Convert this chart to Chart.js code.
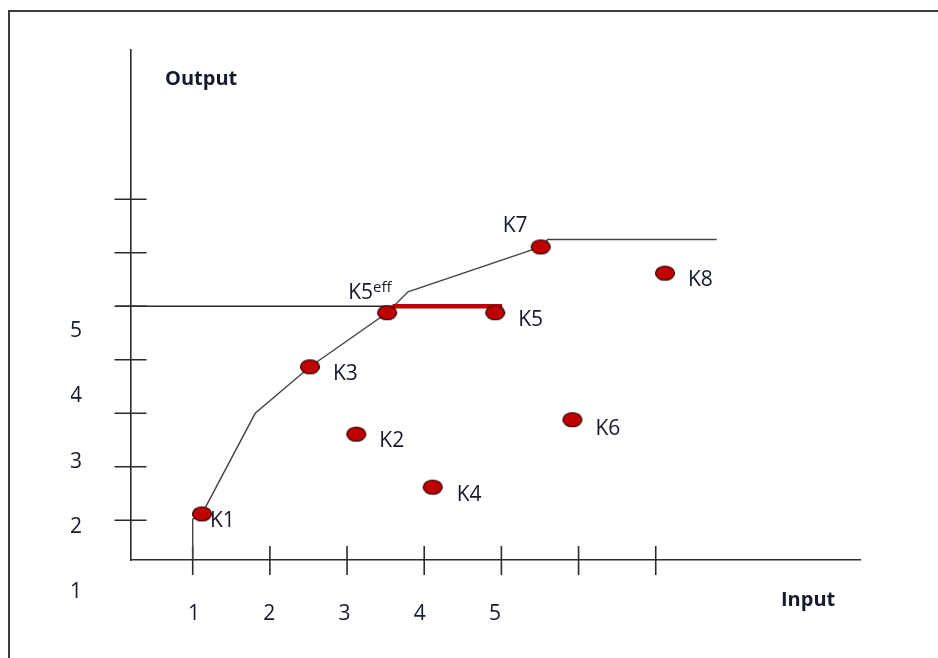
<!DOCTYPE html>
<html>
<head>
<meta charset="utf-8">
<script src="https://cdn.jsdelivr.net/npm/chart.js@4.4.1/dist/chart.umd.min.js"></script>
<style>
  html, body { margin: 0; padding: 0; background: #fff; }
  #wrap { position: relative; width: 938px; height: 658px; overflow: hidden; }
  #frame { position: absolute; left: 8px; top: 10px; right: -10px; bottom: -10px;
           border-left: 2px solid #3c3c3c; border-top: 2px solid #3c3c3c; }
  #chart { position: absolute; left: 0; top: 0; }
</style>
</head>
<body>
<div id="wrap"><div id="frame"></div><canvas id="chart" width="938" height="658"></canvas></div>
<script>
// =====================================
// DATA (units = tick marks on the axes)
// =====================================

const names  = ['K1', 'K2', 'K3', 'K4', 'K5', 'K6', 'K7', 'K8'];
const inputs = [1.12, 3.12, 2.52, 4.11, 4.92, 5.92, 5.51, 7.12];
const outputs = [1.12, 2.61, 3.87, 1.62, 4.88, 2.88, 6.11, 5.62];

// projection of K5 onto the frontier
const effX = [3.52];
const effY = [4.88];

// efficiency frontier
const frontierX = [1.0, 1.0, 1.12, 1.81, 2.52, 3.52, 3.79, 5.51, 5.60, 7.79];
const frontierY = [0.26, 1.02, 1.12, 3.0, 3.87, 4.88, 5.27, 6.11, 6.25, 6.25];

// output level of K5 and the distance to the frontier
const levelX = [0.0, 3.6];
const levelY = [5.0, 5.0];
const gapX = [3.59, 5.01];
const gapY = [5.0, 5.0];

// tick marks and printed tick labels
const xTicks = [1, 2, 3, 4, 5, 6, 7];
const yTicks = [1, 2, 3, 4, 5, 6, 7];
const xLabels = [1, 2, 3, 4, 5];
const yLabels = [1, 2, 3, 4, 5];

const axisColor = '#2b2b2b';
const textColor = '#16192b';
const dotRed = '#c00000';

Chart.defaults.font.family = '"Open Sans", sans-serif';
Chart.defaults.color = textColor;

const pts = (xs, ys) => xs.map((v, i) => ({ x: v, y: ys[i] }));

// elliptic marker
const dot = document.createElement('canvas');
dot.width = 22;
dot.height = 17;
(() => {
    const c = dot.getContext('2d');
    c.beginPath();
    c.ellipse(11, 8.5, 9.5, 7, 0, 0, Math.PI * 2);
    c.fillStyle = dotRed;
    c.fill();
    c.lineWidth = 1.2;
    c.strokeStyle = '#2a0000';
    c.stroke();
})();

// tick marks crossing the axes
const axisMarks = {
    id: 'axisMarks',
    beforeDatasetsDraw(chart) {
        const { ctx, chartArea: a, scales: { x, y } } = chart;
        ctx.save();
        ctx.strokeStyle = axisColor;
        ctx.lineWidth = 1.6;
        ctx.beginPath();
        x.ticks.forEach(t => {
            const px = x.getPixelForValue(t.value);
            ctx.moveTo(px, a.bottom - 14);
            ctx.lineTo(px, a.bottom + 15);
        });
        y.ticks.forEach(t => {
            const py = y.getPixelForValue(t.value);
            ctx.moveTo(a.left - 16.5, py);
            ctx.lineTo(a.left + 15.5, py);
        });
        ctx.stroke();
        ctx.restore();
    }
};

function nameOffset(name) {
    const spots = { K1: [8, 13], K4: [24, 14], K6: [23, 15], K7: [-38, -15] };
    return spots[name] || [23, 13];
}

// firm names and axis titles
const pointNames = {
    id: 'pointNames',
    afterDatasetsDraw(chart) {
        const { ctx, chartArea: a } = chart;
        ctx.save();
        ctx.fillStyle = textColor;
        ctx.textBaseline = 'alphabetic';
        ctx.font = '21px "Open Sans"';
        chart.getDatasetMeta(3).data.forEach((p, i) => {
            const [dx, dy] = nameOffset(names[i]);
            ctx.fillText(names[i], p.x + dx, p.y + dy);
        });
        const e = chart.getDatasetMeta(4).data[0];
        ctx.fillText('K5', e.x - 39, e.y - 14);
        const w = ctx.measureText('K5').width;
        ctx.font = '15px "Open Sans"';
        ctx.fillText('eff', e.x - 39 + w, e.y - 21);

        ctx.font = 'bold 20px "Open Sans"';
        ctx.fillText('Output', a.left + 34, a.top + 35);
        ctx.fillText('Input', a.right - 79, a.bottom + 46);
        ctx.restore();
    }
};

const quietGrid = { display: false, drawTicks: false };

new Chart(document.getElementById('chart'), {
    type: 'scatter',
    data: {
        datasets: [
            {
                label: 'frontier',
                data: pts(frontierX, frontierY),
                showLine: true,
                borderColor: '#444',
                borderWidth: 1.4,
                pointRadius: 0,
                clip: false,
                order: 3
            },
            {
                label: 'level',
                data: pts(levelX, levelY),
                showLine: true,
                borderColor: axisColor,
                borderWidth: 1.6,
                pointRadius: 0,
                clip: false,
                order: 2
            },
            {
                label: 'gap',
                data: pts(gapX, gapY),
                showLine: true,
                borderColor: dotRed,
                borderWidth: 4.5,
                borderCapStyle: 'butt',
                pointRadius: 0,
                clip: false,
                order: 1
            },
            {
                label: 'firms',
                data: pts(inputs, outputs),
                pointStyle: dot,
                pointRadius: 10,
                clip: false,
                order: 0
            },
            {
                label: 'K5eff',
                data: pts(effX, effY),
                pointStyle: dot,
                pointRadius: 10,
                clip: false,
                order: 0
            }
        ]
    },
    options: {
        responsive: false,
        animation: false,
        events: [],
        layout: { padding: { left: 71, top: 50, right: 78, bottom: 18 } },
        plugins: {
            legend: { display: false },
            tooltip: { enabled: false }
        },
        scales: {
            x: {
                type: 'linear',
                position: 'bottom',
                weight: 0,
                min: 0.2005,
                max: 9.647,
                afterBuildTicks: s => { s.ticks = xTicks.map(v => ({ value: v })); },
                afterFit: s => { s.height = 0; },
                grid: quietGrid,
                border: { display: true, color: axisColor, width: 1.6 },
                ticks: { display: false }
            },
            y: {
                type: 'linear',
                position: 'left',
                weight: 0,
                min: 0.258,
                max: 9.791,
                afterBuildTicks: s => { s.ticks = yTicks.map(v => ({ value: v })); },
                afterFit: s => { s.width = 0; },
                grid: quietGrid,
                border: { display: true, color: axisColor, width: 1.6 },
                ticks: { display: false }
            },
            xl: {
                type: 'linear',
                axis: 'x',
                position: 'bottom',
                weight: 1,
                min: 0.1628,
                max: 9.851,
                afterBuildTicks: s => { s.ticks = xLabels.map(v => ({ value: v })); },
                afterFit: s => {
                    s.height = 80;
                    s.paddingLeft = 0;
                    s.paddingRight = 0;
                },
                grid: quietGrid,
                border: { display: false },
                ticks: { autoSkip: false, maxRotation: 0, padding: 41, font: { size: 21 }, color: textColor }
            },
            yl: {
                type: 'linear',
                axis: 'y',
                position: 'left',
                weight: 1,
                min: 1.497,
                max: 9.295,
                afterBuildTicks: s => { s.ticks = yLabels.map(v => ({ value: v })); },
                afterFit: s => {
                    s.width = 60;
                    s.paddingTop = 0;
                    s.paddingBottom = 0;
                },
                grid: quietGrid,
                border: { display: false },
                ticks: { autoSkip: false, padding: 49, font: { size: 21 }, color: textColor }
            }
        }
    },
    plugins: [axisMarks, pointNames]
});
</script>
</body>
</html>
